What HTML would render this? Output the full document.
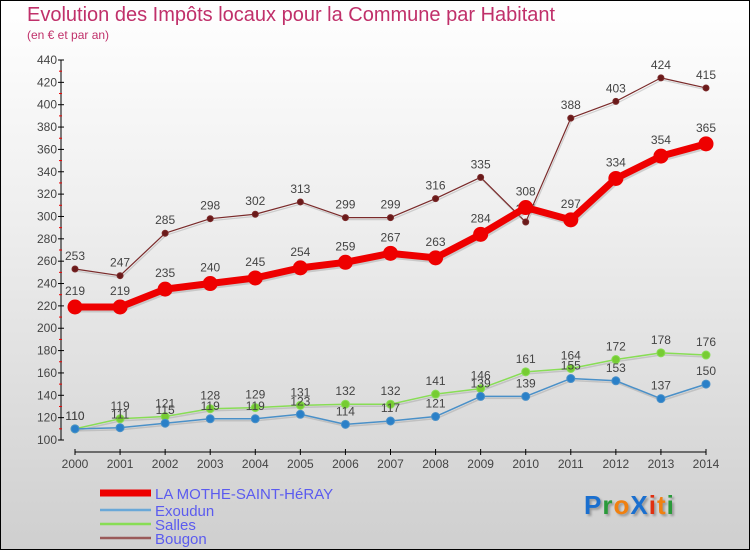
<!DOCTYPE html>
<html><head><meta charset="utf-8">
<style>
html,body{margin:0;padding:0}
body{width:750px;height:550px;overflow:hidden;font-family:"Liberation Sans","DejaVu Sans",sans-serif}
#wrap{position:relative;width:748px;height:548px;border:1px solid #000;background:linear-gradient(#ffffff 0%,#eeeeee 40%,#cfcfcf 100%)}
#title{position:absolute;left:26px;top:3px;font-size:20px;color:#c0306a;white-space:nowrap}
#sub{position:absolute;left:26px;top:27px;font-size:12px;color:#c0306a}
#logo{position:absolute;left:583px;top:489px;font-size:26px;font-weight:bold;letter-spacing:1px;text-shadow:2px 2px 2px #999}
</style></head><body>
<div id="wrap">
<div id="title">Evolution des Impôts locaux pour la Commune par Habitant</div>
<div id="sub">(en € et par an)</div>
<svg id="chart" width="750" height="550" style="position:absolute;left:-1px;top:-1px"></svg>
<div id="logo"><span style="color:#1a6fcf">P</span><span style="color:#2a9a3a">r</span><span style="color:#f08010">o</span><span style="color:#1a6fcf">X</span><span style="color:#e03010">i</span><span style="color:#f08010">t</span><span style="color:#2a9a3a">i</span></div>
</div>
<script>
const years=[2000,2001,2002,2003,2004,2005,2006,2007,2008,2009,2010,2011,2012,2013,2014];
const yTicks=[100,120,140,160,180,200,220,240,260,280,300,320,340,360,380,400,420,440];
const mothe=[219,219,235,240,245,254,259,267,263,284,308,297,334,354,365];
const exoudun=[110,111,115,119,119,123,114,117,121,139,139,155,153,137,150];
const salles=[110,119,121,128,129,131,132,132,141,146,161,164,172,178,176];
const bougon=[253,247,285,298,302,313,299,299,316,335,295,388,403,424,415];
const seriesNames=["LA MOTHE-SAINT-HéRAY","Exoudun","Salles","Bougon"];

const svg=document.getElementById('chart');
const NS='http://www.w3.org/2000/svg';
const x0=75,x1=706,yB=440,yT=60,vMin=100,vMax=440;
function xs(i){return x0+(x1-x0)*i/(years.length-1);}
function ys(v){return yB-(v-vMin)*(yB-yT)/(vMax-vMin);}
function mk(tag,attrs,parent){const e=document.createElementNS(NS,tag);for(const k in attrs)e.setAttribute(k,attrs[k]);(parent||svg).appendChild(e);return e;}

// axes
const ax=mk('g',{});


mk('line',{x1:61,y1:ys(440),x2:61,y2:ys(100),stroke:'#000','stroke-width':1},ax);
mk('line',{x1:x0,y1:452,x2:x1,y2:452,stroke:'#000','stroke-width':1},ax);
yTicks.forEach((v,i)=>{
  const y=ys(v);
  mk('line',{x1:58,y1:y,x2:64,y2:y,stroke:'#000'},ax);
  const t=mk('text',{x:57,y:y+4,'text-anchor':'end','font-size':12,fill:'#444'},ax);
  t.textContent=v;
  
  
  if(i<yTicks.length-1){const ym=ys(v+10);mk('line',{x1:59,y1:ym,x2:62,y2:ym,stroke:'#e00'},ax);}
});
years.forEach((yr,i)=>{
  const x=xs(i);
  mk('line',{x1:x,y1:449,x2:x,y2:455,stroke:'#000'},ax);
  const t=mk('text',{x:x,y:468,'text-anchor':'middle','font-size':12,fill:'#444'},ax);
  t.textContent=yr;
  
  
});

function drawSeries(data,color,dotFill,width,r,name,labelDy){
  const g=mk('g',{});
  
  
  const pts=data.map((v,i)=>xs(i)+','+ys(v)).join(' ');
  mk('polyline',{points:pts,fill:'none',stroke:'#999','stroke-opacity':0.4,'stroke-width':width,transform:'translate(1,2)'},g);
  mk('polyline',{points:pts,fill:'none',stroke:color,'stroke-width':width,'stroke-linejoin':'round'},g);
  data.forEach((v,i)=>{
    const c=mk('circle',{cx:xs(i),cy:ys(v),r:r,fill:dotFill,stroke:color,'stroke-width':1},g);
    
    
    const t=mk('text',{x:xs(i),y:ys(v)+labelDy,'text-anchor':'middle','font-size':12,fill:'#444'},g);
    t.textContent=v;
    
    
  });
}
drawSeries(bougon,'#7a2a2a','#6a1a1a',1.2,3,'series-bougon',-9);
drawSeries(salles,'#88dd55','#77cc33',1.5,4,'series-salles',-9);
drawSeries(exoudun,'#4a90c8','#2a80c8',1.5,4,'series-exoudun',-9);
drawSeries(mothe,'#ee0000','#ee0000',7,7,'series-mothe',-12);

// legend
const colors=['#ee0000','#6aa8d8','#88dd55','#9a5a5a'];
const widths=[7,2.5,2.5,2.5];
const lys=[493,510,524,538];
seriesNames.forEach((n,i)=>{
  const g=mk('g',{});
  
  
  mk('line',{x1:100,y1:lys[i],x2:151,y2:lys[i],stroke:colors[i],'stroke-width':widths[i]},g);
  const t=mk('text',{x:155,y:lys[i]+6,'font-size':15,fill:'#5b5bef'},g);
  t.textContent=n;
});
</script>
</body></html>
